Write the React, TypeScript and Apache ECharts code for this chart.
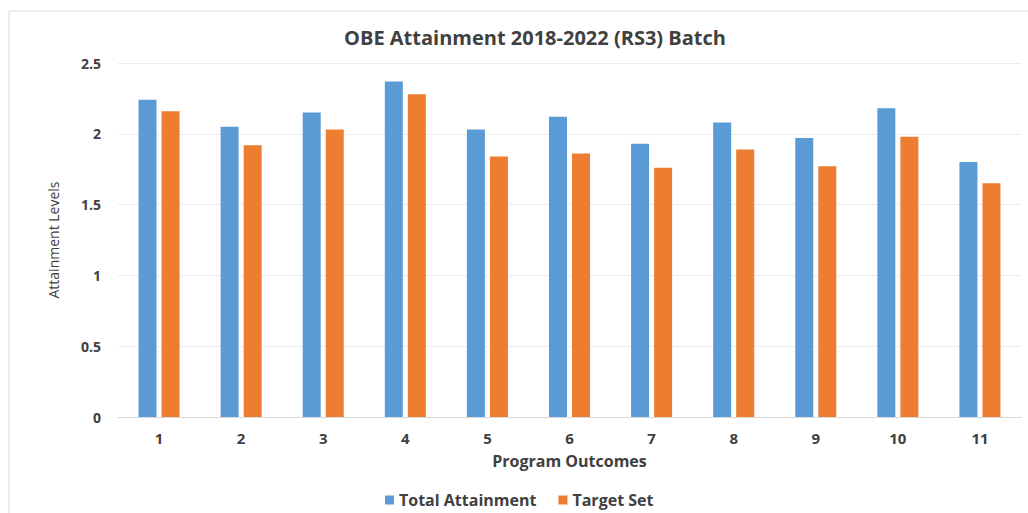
import React, { useEffect, useRef } from "react";
import * as echarts from "echarts";

const categories = ["1", "2", "3", "4", "5", "6", "7", "8", "9", "10", "11"];
const totalAttainment = [2.24, 2.05, 2.15, 2.37, 2.03, 2.12, 1.93, 2.08, 1.97, 2.18, 1.8];
const targetSet = [2.16, 1.92, 2.03, 2.28, 1.84, 1.86, 1.76, 1.89, 1.77, 1.98, 1.65];
const yTicks = { min: 0, max: 2.5, interval: 0.5 };

const FONT = "'Open Sans', 'Noto Sans', sans-serif";

export default function App() {
  const ref = useRef<HTMLDivElement>(null);
  useEffect(() => {
    if (!ref.current) return;
    const chart = echarts.init(ref.current, null, { renderer: "svg" });
    chart.setOption({
      animation: false,
      backgroundColor: "#ffffff",
      title: {
        text: "OBE Attainment 2018-2022 (RS3) Batch",
        left: 530,
        textAlign: "center",
        top: 22,
        textStyle: { fontFamily: FONT, fontSize: 20, fontWeight: "bold", color: "#404040" },
      },
      graphic: [
        {
          type: "rect",
          shape: { x: 9, y: 11, width: 1030, height: 520 },
          style: { fill: "none", stroke: "#d9d9d9", lineWidth: 1 },
          silent: true,
        },
      ],
      legend: {
        data: ["Total Attainment", "Target Set"],
        bottom: 0,
        left: 380,
        itemWidth: 9,
        itemHeight: 9,
        itemGap: 22,
        icon: "rect",
        textStyle: { fontFamily: FONT, fontSize: 16, fontWeight: "bold", color: "#404040" },
      },
      grid: { left: 118, right: 7, top: 63, bottom: 96 },
      xAxis: {
        type: "category",
        data: categories,
        name: "Program Outcomes",
        nameLocation: "middle",
        nameGap: 36,
        nameTextStyle: { fontFamily: FONT, fontSize: 16, fontWeight: "bold", color: "#404040" },
        axisLine: { lineStyle: { color: "#d9d9d9" } },
        axisTick: { show: false },
        axisLabel: { fontFamily: FONT, fontSize: 15, fontWeight: "bold", color: "#404040", margin: 13 },
      },
      yAxis: {
        type: "value",
        min: yTicks.min,
        max: yTicks.max,
        interval: yTicks.interval,
        name: "Attainment Levels",
        nameLocation: "middle",
        nameGap: 58,
        nameTextStyle: { fontFamily: FONT, fontSize: 14, color: "#404040" },
        axisLine: { show: false },
        axisTick: { show: false },
        axisLabel: { fontFamily: FONT, fontSize: 14, fontWeight: "bold", color: "#404040", margin: 17 },
        splitLine: { lineStyle: { color: "#ececec" } },
      },
      series: [
        {
          name: "Total Attainment",
          type: "bar",
          data: totalAttainment,
          barWidth: 18,
          barGap: "28%",
          itemStyle: { color: "#5B9BD5" },
        },
        {
          name: "Target Set",
          type: "bar",
          data: targetSet,
          barWidth: 18,
          barGap: "28%",
          itemStyle: { color: "#ED7D31" },
        },
      ],
    });
    return () => chart.dispose();
  }, []);
  return (
    <div
      ref={ref}
      style={{ position: "fixed", left: 0, top: 0, width: 1028, height: 513 }}
    />
  );
}
